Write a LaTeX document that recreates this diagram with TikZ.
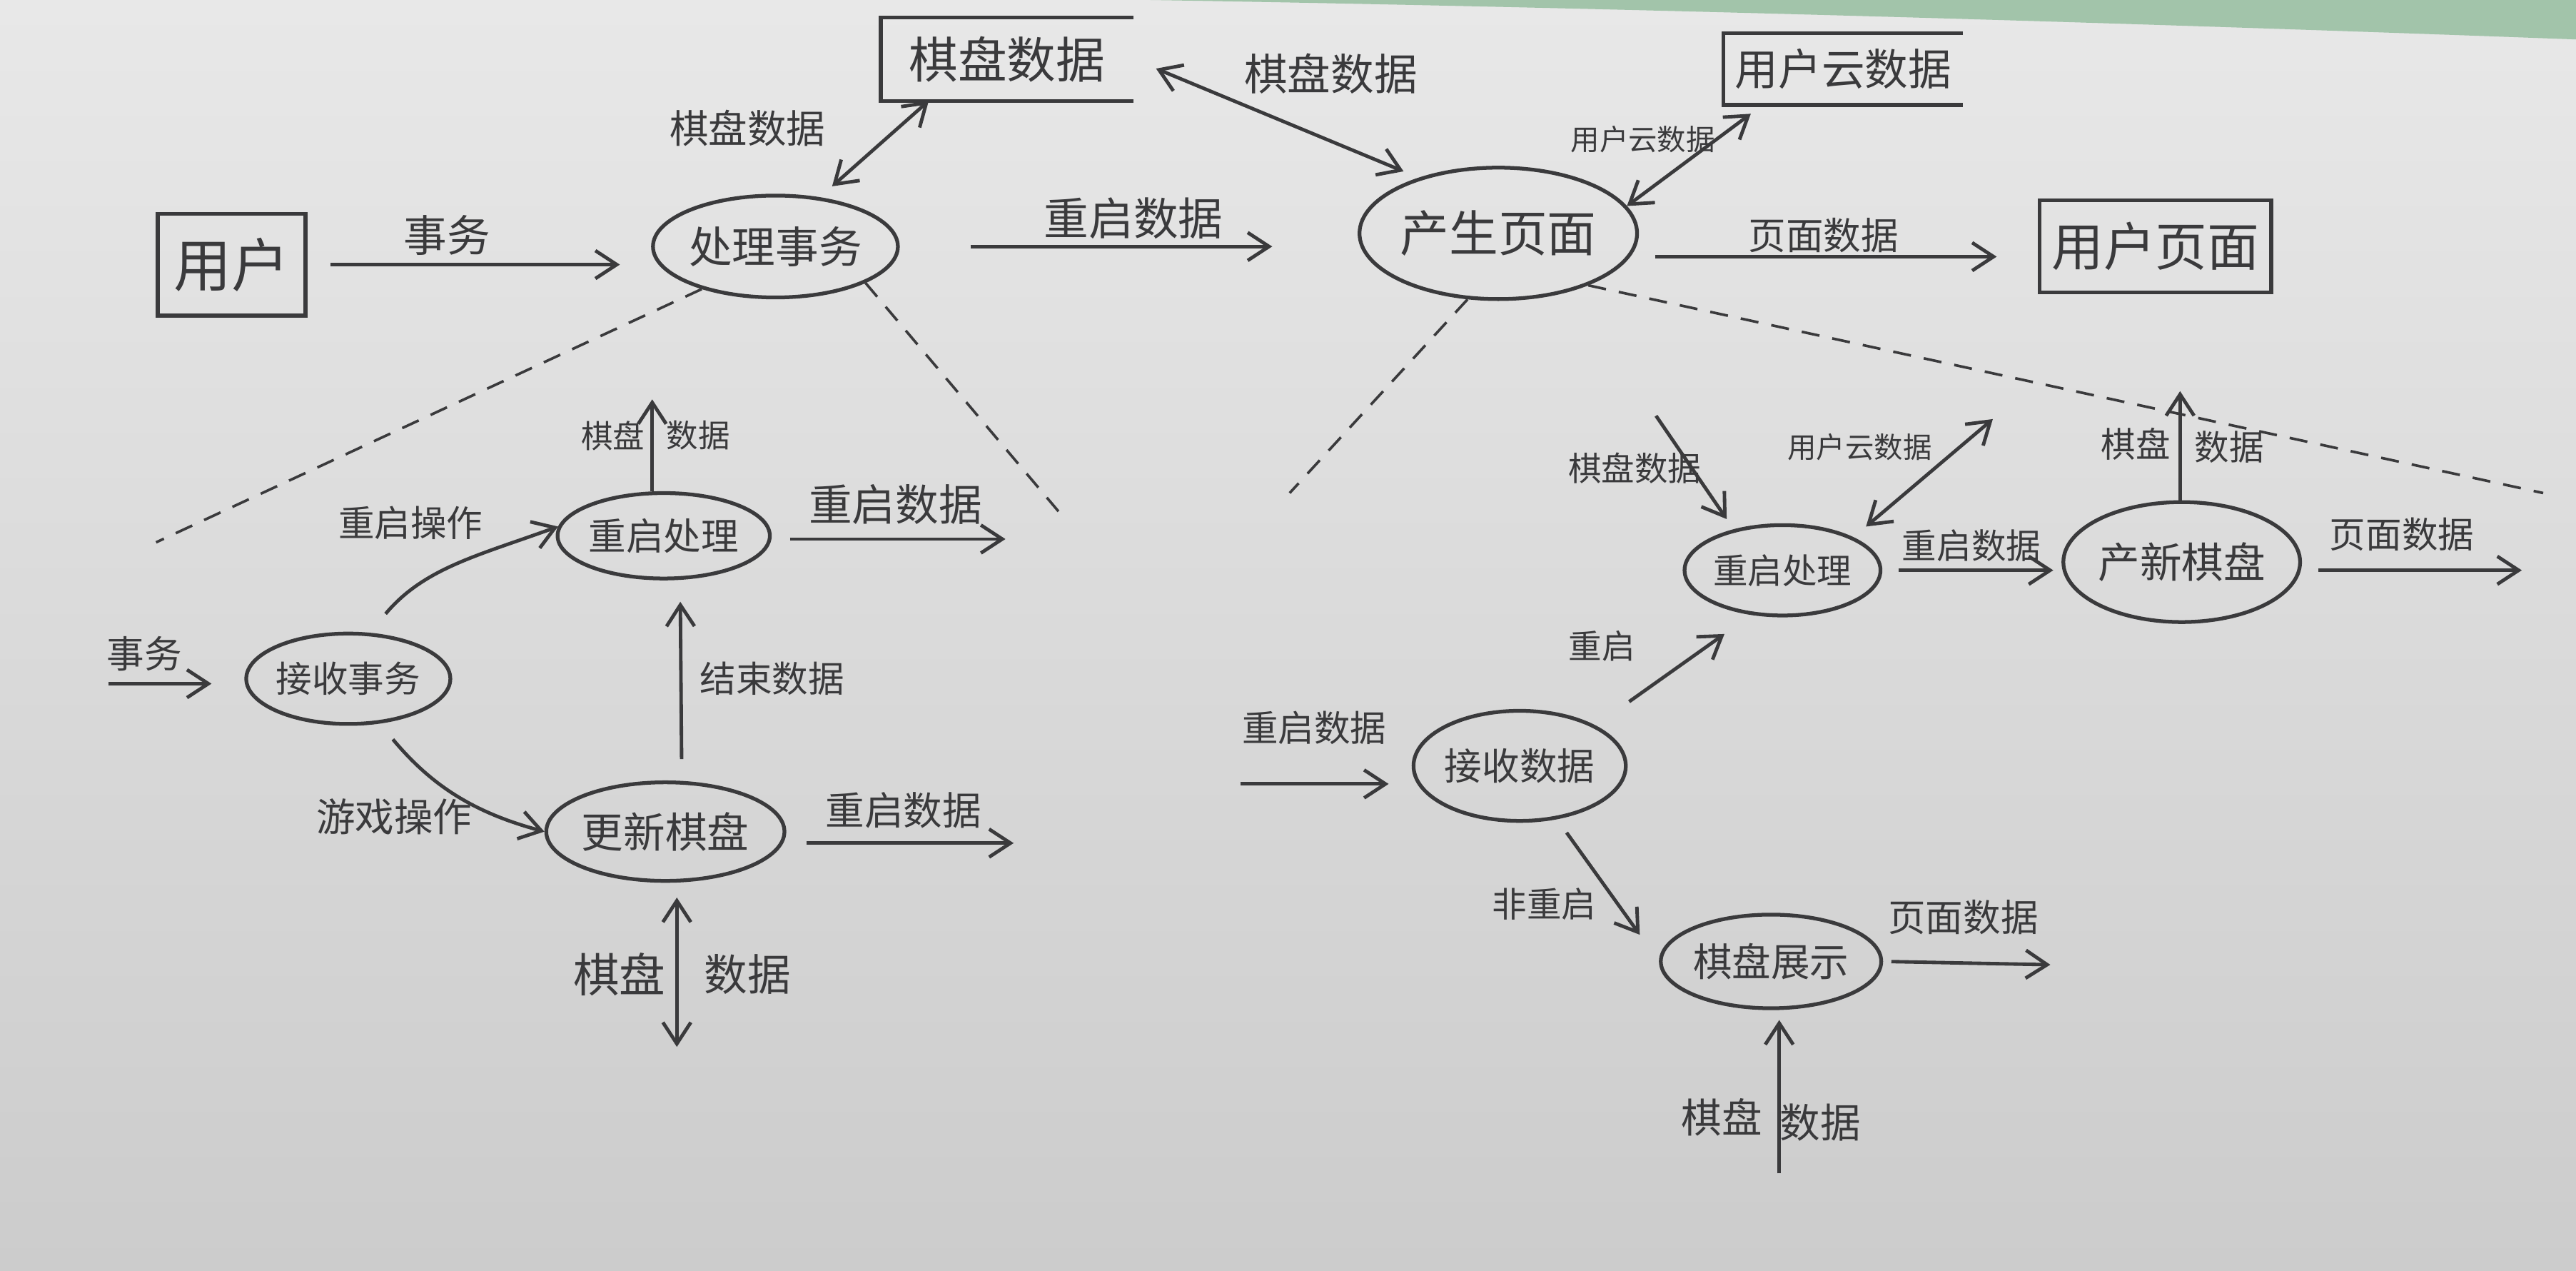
\documentclass[tikz,border=0pt]{standalone}
\usepackage{fontspec}
\setmainfont{Noto Sans CJK SC}
\usepackage{xcolor}
\usepackage{tikz}
\usetikzlibrary{arrows.meta,positioning,shapes.geometric,calc}
\definecolor{ink}{RGB}{58,58,60}
\definecolor{desk}{RGB}{162,196,170}
\tikzset{
  proc/.style={ellipse, draw=ink, line width=1.3pt, inner sep=0pt, text=ink},
  ent/.style={rectangle, draw=ink, line width=1.3pt, inner sep=0pt, text=ink},
  store/.style={rectangle, inner sep=0pt, text=ink},
  lbl/.style={text=ink, inner sep=1pt},
  fnt/.style={font=\fontsize{#1}{#1}\selectfont},
  arr/.style={-{Straight Barb[length=2.6mm,width=3.4mm]}, line width=1.2pt, draw=ink},
  darr/.style={{Straight Barb[length=2.6mm,width=3.4mm]}-{Straight Barb[length=2.6mm,width=3.4mm]},
    line width=1.2pt, draw=ink},
}

\begin{document}
\begin{tikzpicture}[x=0.02cm, y=-0.02cm,
    split/.style={draw=ink, line width=0.9pt, dash pattern=on 0.22cm off 0.16cm},
  ]
  \useasboundingbox (0,0) rectangle (1568,773);
  % paper
  \fill[top color=black!9, bottom color=black!20] (0,0) rectangle (1568,773);
  \fill[desk] (700,0) -- (1568,0) -- (1568,24) .. controls (1300,14) and (1000,5) .. (700,0) -- cycle;

  % top level
  \node[ent, fnt=20pt, minimum width=1.8cm, minimum height=1.24cm] (user) at (141,161) {用户};
  \node[proc, fnt=15pt, minimum width=2.8cm, minimum height=1.24cm] (proc) at (472,150) {处理事务};
  \node[store, fnt=17pt, minimum width=3.06cm, minimum height=1.0cm] (qdata) at (613,36) {棋盘数据};
  \node[proc, fnt=17pt, minimum width=3.3cm, minimum height=1.6cm] (gen) at (912,142) {产生页面};
  \node[store, fnt=15pt, minimum width=2.9cm, minimum height=0.86cm] (ycloud) at (1122,42) {用户云数据};
  \node[ent, fnt=18pt, minimum width=2.82cm, minimum height=1.12cm] (upage) at (1312,150) {用户页面};
  % lower left
  \node[proc, fnt=12.5pt, minimum width=2.4cm, minimum height=1.1cm] (rtx) at (212,413) {接收事务};
  \node[proc, fnt=13pt, minimum width=2.55cm, minimum height=1.04cm] (rst1) at (404,326) {重启处理};
  \node[proc, fnt=14.5pt, minimum width=2.9cm, minimum height=1.2cm] (upd) at (405,506) {更新棋盘};
  % lower right
  \node[proc, fnt=13pt, minimum width=2.52cm, minimum height=1.34cm] (rcv) at (925,466) {接收数据};
  \node[proc, fnt=12pt, minimum width=2.2cm, minimum height=1.1cm] (rst2) at (1085,347) {重启处理};
  \node[proc, fnt=14.5pt, minimum width=2.7cm, minimum height=1.46cm] (newb) at (1328,342) {产新棋盘};
  \node[proc, fnt=13.5pt, minimum width=2.54cm, minimum height=1.14cm] (show) at (1078,585) {棋盘展示};

  % open-ended stores
  \foreach \s in {qdata,ycloud}
    \draw[ink, line width=1.3pt] (\s.north east) -- (\s.north west) -- (\s.south west) -- (\s.south east);

  % free ends
  \coordinate (tin) at (66,416);
  \coordinate (t1) at (397,243);
  \coordinate (o1) at (612,328);
  \coordinate (o2) at (617,513);
  \coordinate (b1) at (412,637);
  \coordinate (rin) at (755,477);
  \coordinate (q2) at (1008,253);
  \coordinate (c2) at (1213,255);
  \coordinate (t2) at (1327,238);
  \coordinate (o3) at (1535,347);
  \coordinate (o4) at (1248,587);
  \coordinate (b2) at (1083,714);
  \coordinate (d1) at (95,330);
  \coordinate (d2) at (645,312);
  \coordinate (d3) at (785,300);
  \coordinate (d4) at (1548,300);

  % arrows, top
  \draw[arr, shorten <=0.28cm, shorten >=0.38cm] (user.east) -- (user.east -| proc.west);
  \draw[darr, shorten <=0.2cm] (proc.48) -- (qdata.-152);
  \draw[darr, shorten <=0.3cm, shorten >=0.2cm] (qdata.east) -- (gen.145);
  \draw[arr, shorten <=0.86cm, shorten >=1.04cm] (proc.east) -- (proc.east -| gen.west);
  \draw[darr, shorten >=0.18cm] (gen.12) -- (ycloud.-156);
  \draw[arr, shorten <=0.3cm, shorten >=0.5cm] (gen.-10) -- (gen.-10 -| upage.west);
  % zoom-in borders
  \draw[split] (proc.-150) -- (d1);
  \draw[split] (proc.-22) -- (d2);
  \draw[split] (gen.-115) -- (d3);
  \draw[split] (gen.-30) -- (d4);
  % arrows, lower left
  \draw[arr, shorten >=0.4cm] (tin) -- (tin -| rtx.west);
  \draw[arr, shorten <=0.3cm] (rtx.65) to[out=50, in=200] (rst1.175);
  \draw[arr] (rst1.north -| t1) -- (t1);
  \draw[arr, shorten <=0.22cm] (rst1.east |- o1) -- (o1);
  \draw[arr, shorten <=0.26cm, shorten >=0.26cm] ([xshift=0.2cm]upd.north) -- ([xshift=0.2cm]rst1.south);
  \draw[arr, shorten <=0.25cm] (rtx.-55) to[out=-50, in=165] (upd.west);
  \draw[arr, shorten <=0.25cm] (upd.east |- o2) -- (o2);
  \draw[darr, shorten <=0.18cm] (upd.south -| b1) -- (b1);
  % arrows, lower right
  \draw[arr, shorten >=0.28cm] (rin) -- (rin -| rcv.west);
  \draw[arr, shorten <=0.5cm, shorten >=0.4cm] (rcv.28) -- (rst2.-125);
  \draw[arr, shorten >=0.15cm] (q2) -- (rst2.140);
  \draw[darr, shorten >=0.2cm] (c2) -- (rst2.25);
  \draw[arr, shorten <=0.2cm, shorten >=0.1cm] (rst2.east) -- (rst2.east -| newb.west);
  \draw[arr] (newb.north -| t2) -- (t2);
  \draw[arr, shorten <=0.2cm] (newb.east |- o3) -- (o3);
  \draw[arr, shorten <=0.2cm, shorten >=0.4cm] (rcv.-55) -- (show.west);
  \draw[arr, shorten <=0.1cm] (show.east) -- (o4);
  \draw[arr, shorten >=0.12cm] (b2) -- (show.south -| b2);

  % labels
  \node[lbl, fnt=15pt] (ltx) at (272,143) {事务};
  \node[lbl, fnt=13.5pt] (lqd1) at (455,78) {棋盘数据};
  \node[lbl, fnt=15pt] (lqd2) at (810,45) {棋盘数据};
  \node[lbl, fnt=15.5pt] (lrs) at (690,133) {重启数据};
  \node[lbl, fnt=10pt] (lyc) at (1000,85) {用户云数据};
  \node[lbl, fnt=13pt] (lpg) at (1110,143) {页面数据};
  \node[lbl, fnt=13pt] (ltx2) at (88,398) {事务};
  \node[lbl, fnt=12.5pt] (lop1) at (250,318) {重启操作};
  \node[lbl, fnt=11pt] (lq3a) at (373,265) {棋盘};
  \node[lbl, fnt=11pt] (lq3b) at (425,265) {数据};
  \node[lbl, fnt=15pt] (lrs2) at (545,307) {重启数据};
  \node[lbl, fnt=12.5pt] (lend) at (470,413) {结束数据};
  \node[lbl, fnt=13.5pt] (lop2) at (240,497) {游戏操作};
  \node[lbl, fnt=13.5pt] (lrs3) at (550,493) {重启数据};
  \node[lbl, fnt=16pt] (lq4a) at (377,593) {棋盘};
  \node[lbl, fnt=15pt] (lq4b) at (455,593) {数据};
  \node[lbl, fnt=12.5pt] (lrs4) at (800,443) {重启数据};
  \node[lbl, fnt=11.5pt] (lrst) at (975,393) {重启};
  \node[lbl, fnt=11.5pt] (lq5) at (995,285) {棋盘数据};
  \node[lbl, fnt=10pt] (lyc2) at (1132,272) {用户云数据};
  \node[lbl, fnt=12pt] (lrs5) at (1200,332) {重启数据};
  \node[lbl, fnt=12pt] (lq6a) at (1300,270) {棋盘};
  \node[lbl, fnt=12pt] (lq6b) at (1357,272) {数据};
  \node[lbl, fnt=12.5pt] (lpg2) at (1462,325) {页面数据};
  \node[lbl, fnt=12pt] (lnr) at (940,550) {非重启};
  \node[lbl, fnt=13pt] (lpg3) at (1195,558) {页面数据};
  \node[lbl, fnt=14pt] (lq7a) at (1048,680) {棋盘};
  \node[lbl, fnt=14pt] (lq7b) at (1108,683) {数据};
\end{tikzpicture}
\end{document}
